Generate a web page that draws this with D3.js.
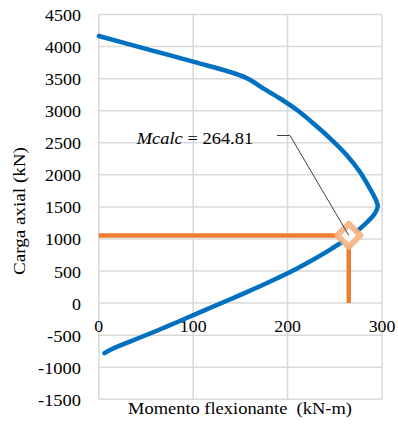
<!DOCTYPE html>
<html><head><meta charset="utf-8">
<script src="https://cdn.jsdelivr.net/npm/d3@7"></script>
<style>
html,body{margin:0;padding:0;background:#fff;}
</style></head>
<body>
<svg id="c" width="398" height="427"></svg>
<script>
// Interaction diagram (moment vs axial load)
const moment = [0, 50, 100, 155, 175, 192, 210, 227, 245, 262.5, 276.5, 287, 293.5, 295.5, 292.5, 285.5, 275, 261, 243, 225.5, 208, 190, 172.5, 155, 137, 119.5, 102, 84, 66.5, 49, 31, 14, 6];
const axial  = [4165, 3965, 3764, 3520, 3340, 3190, 3010, 2805, 2570, 2310, 2047, 1790, 1610, 1510, 1400, 1280, 1140, 985, 815, 665, 525, 395, 275, 160, 45, -65, -175, -290, -400, -505, -612, -715, -780];
const calcMoment = [0, 264.81, 264.81];
const calcAxial = [1055, 1055, 0];
const xTicks = [0, 100, 200, 300];
const yTicks = [4500, 4000, 3500, 3000, 2500, 2000, 1500, 1000, 500, 0, -500, -1000, -1500];
const xTitle = "Momento flexionante  (kN-m)";
const yTitle = "Carga axial (kN)";
const mcalcValue = 264.81;

const svg = d3.select("#c");
const x = d3.scaleLinear().domain([0, 300]).range([98.8, 382]);
const y = d3.scaleLinear().domain([-1500, 4500]).range([399.3, 14.5]);

function txt(str) {
  return svg.append("text").attr("font-family", "Liberation Serif, Times New Roman, serif").attr("font-size", 17).attr("fill", "#000").text(str);
}
// helper to stretch text horizontally to a target width
function fit(t, tx, ty, w, anchor) {
  const nat = t.node().getComputedTextLength();
  const k = w / nat;
  let off = 0;
  if (anchor === "middle") off = -w / 2;
  if (anchor === "end") off = -w;
  t.attr("transform", `translate(${tx + off},${ty}) scale(${k},1)`);
}

// grid
const grid = svg.append("g").attr("stroke", "#d9d9d9").attr("stroke-width", 1.5);
yTicks.forEach(v => grid.append("line").attr("x1", x(0)).attr("x2", x(300)).attr("y1", y(v)).attr("y2", y(v)));
xTicks.forEach(v => grid.append("line").attr("x1", x(v)).attr("x2", x(v)).attr("y1", y(4500)).attr("y2", y(-1500)));

// y tick labels
yTicks.forEach(v => {
  const t = txt(String(v));
  fit(t, 81, y(v) + 6.5, String(v).replace("-", "").length * 9 + (v < 0 ? 7 : 0), "end");
});
// x tick labels
xTicks.forEach(v => {
  const t = txt(String(v));
  fit(t, x(v), y(0) + 29, String(v).length * 8.9, "middle");
});

// titles
const xt = txt(xTitle).attr("xml:space", "preserve").style("white-space", "pre");
fit(xt, 240, 414, 224, "middle");
const yt = txt(yTitle);
const ytn = yt.node().getComputedTextLength();
yt.attr("transform", `translate(25,${211 + 64}) rotate(-90) scale(${128 / ytn},1)`);

// blue curve
const pts = moment.map((m, i) => [m, axial[i]]);
svg.append("path").datum(pts)
  .attr("fill", "none").attr("stroke", "#0070C0").attr("stroke-width", 4.5)
  .attr("stroke-linejoin", "round").attr("stroke-linecap", "round")
  .attr("d", d3.line().x(d => x(d[0])).y(d => y(d[1])).curve(d3.curveCatmullRom));

// orange lines
const opts = calcMoment.map((m, i) => [m, calcAxial[i]]);
svg.append("path").datum(opts)
  .attr("fill", "none").attr("stroke", "#ED7D31").attr("stroke-width", 4.5)
  .attr("d", d3.line().x(d => x(d[0])).y(d => y(d[1])));

// marker
const mx = x(calcMoment[1]), my = y(calcAxial[1]);
const s = 11.5;
svg.append("path")
  .attr("d", `M${mx},${my - s}L${mx + s},${my}L${mx},${my + s}L${mx - s},${my}Z`)
  .attr("fill", "#fff").attr("stroke", "#F5B283").attr("stroke-opacity", 0.9).attr("stroke-width", 6)
  .attr("stroke-linejoin", "round");

// leader line
svg.append("path")
  .attr("d", `M277,135.5L290,135.5L${mx},${my}`)
  .attr("fill", "none").attr("stroke", "#404040").attr("stroke-width", 1);

// annotation
const at = txt(null);
at.append("tspan").attr("font-style", "italic").text("Mcalc");
at.append("tspan").text(" = " + mcalcValue.toFixed(2));
fit(at, 136.7, 143.5, 116.6, "start");
</script>
</body></html>
